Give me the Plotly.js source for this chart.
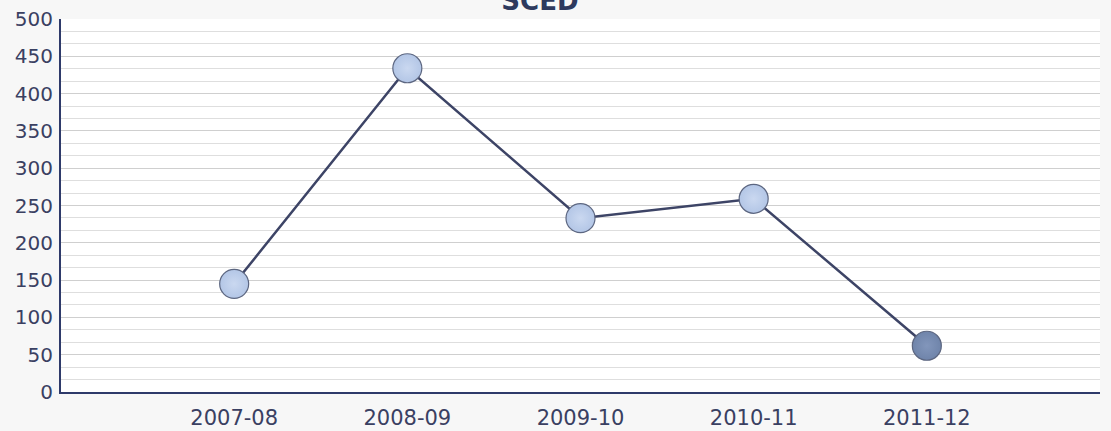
<!DOCTYPE html>
<html>
<head>
<meta charset="utf-8">
<script src="https://cdn.plot.ly/plotly-3.0.1.min.js"></script>
<style>html,body{margin:0;padding:0;background:#f7f7f7;}#chart{width:1111px;height:431px;}</style>
</head>
<body>
<div id="chart"></div>
<script>
const categories = ['2007-08', '2008-09', '2009-10', '2010-11', '2011-12'];
const values = [145, 434, 233, 259, 62];
const markerColors = ['#b3c6e6', '#b3c6e6', '#b3c6e6', '#b3c6e6', '#6f84aa'];
const yTicks = [0, 50, 100, 150, 200, 250, 300, 350, 400, 450, 500];

const trace = {
  x: categories.map((c, i) => i),
  y: values,
  type: 'scatter',
  mode: 'lines+markers',
  line: {color: '#3d4466', width: 2.5},
  marker: {
    size: 29,
    color: markerColors,
    line: {color: '#5c6680', width: 1.2},
    gradient: {type: 'radial', color: markerColors.map((c, i) => i === 4 ? '#8296bb' : '#cad8f0')}
  },
  hoverinfo: 'skip'
};

const layout = {
  width: 1111, height: 431,
  margin: {l: 61, r: 11, t: 19, b: 39},
  paper_bgcolor: '#f7f7f7',
  plot_bgcolor: '#ffffff',
  showlegend: false,
  title: {text: '<b>SCED</b>', x: 0.486, xanchor: 'center', y: 0.998, yanchor: 'middle',
          font: {family: 'DejaVu Sans', size: 26, color: '#2e3a5e'}},
  xaxis: {
    range: [-1, 5],
    tickmode: 'array',
    tickvals: categories.map((c, i) => i),
    ticktext: categories,
    showgrid: false, zeroline: false,
    showline: true, linecolor: '#2e3a6a', linewidth: 2,
    ticks: '',
    ticklabelstandoff: 6,
    tickfont: {family: 'DejaVu Sans', size: 21, color: '#3a4062'},
    fixedrange: true
  },
  yaxis: {
    range: [0, 500],
    tickmode: 'array',
    tickvals: yTicks,
    ticktext: yTicks.map(String),
    showgrid: true, gridcolor: '#cfcfcf', gridwidth: 1,
    minor: {dtick: 50/3, tick0: 0, showgrid: true, gridcolor: '#dedede', gridwidth: 1},
    zeroline: false,
    showline: true, linecolor: '#2e3a6a', linewidth: 2,
    ticks: '',
    ticklabelstandoff: 2,
    tickfont: {family: 'DejaVu Sans', size: 20, color: '#3a4062'},
    fixedrange: true
  }
};

Plotly.newPlot('chart', [trace], layout, {displayModeBar: false, staticPlot: true});
</script>
</body>
</html>
